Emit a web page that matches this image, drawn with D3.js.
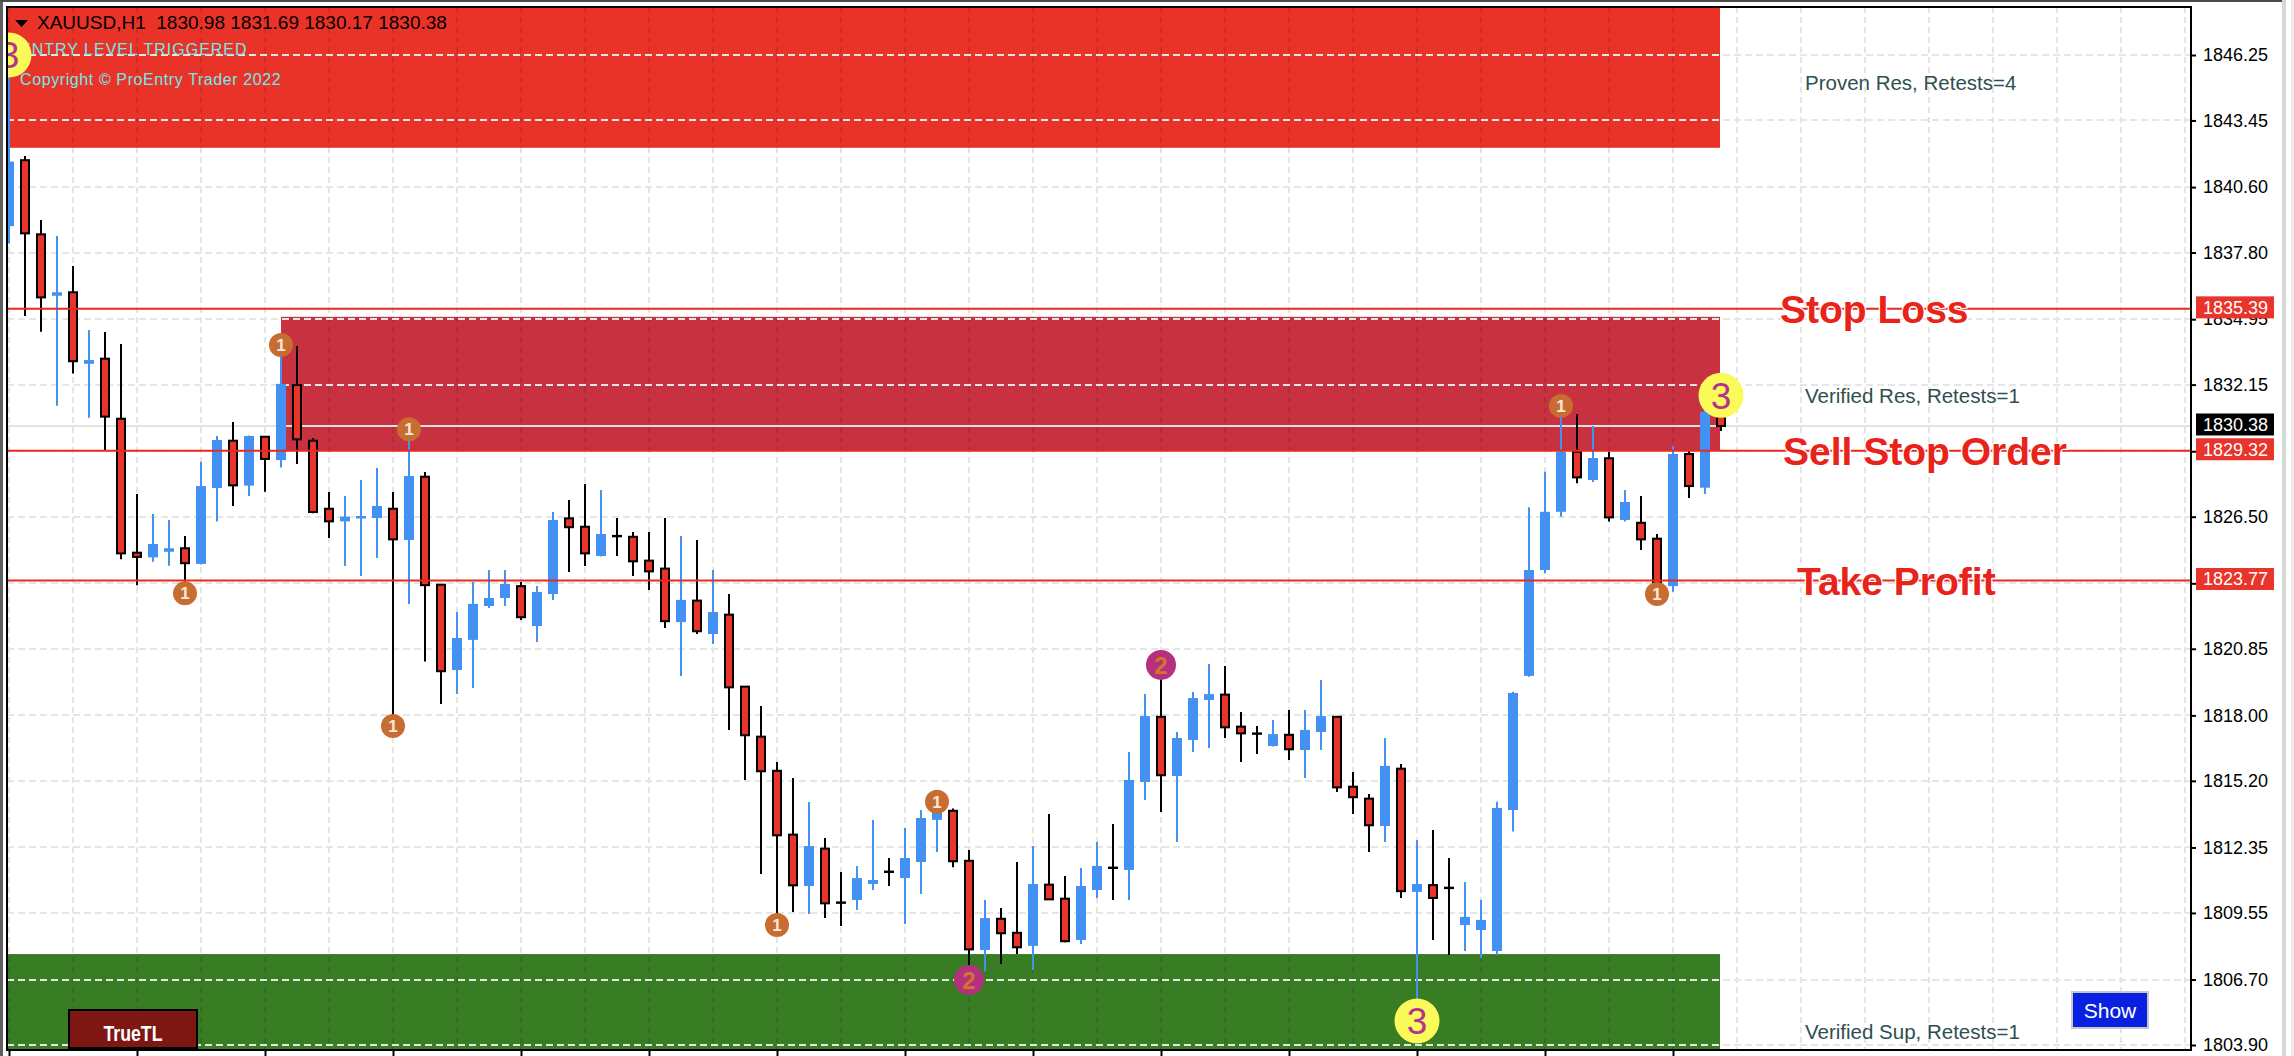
<!DOCTYPE html>
<html><head><meta charset="utf-8">
<script src="https://cdn.jsdelivr.net/npm/d3@7"></script>
<style>
html,body{margin:0;padding:0;background:#fff;overflow:hidden}
svg{display:block}
text{font-family:"Liberation Sans",Arial,sans-serif}
</style></head><body>
<svg id="chart" width="2294" height="1056"></svg>
<script>
// ---------------- DATA ----------------
const symbol = "XAUUSD,H1";
const opens = [1838.93,1841.75,1838.58,1835.95,1836.10,1833.04,1833.26,1830.69,1824.96,1824.76,
1825.00,1825.15,1824.48,1827.73,1829.75,1827.83,1829.92,1828.92,1832.13,1829.75,
1826.84,1826.30,1826.46,1826.44,1826.84,1825.50,1828.21,1823.59,1819.94,1821.23,
1822.68,1823.02,1823.53,1821.82,1823.19,1826.43,1826.07,1824.82,1825.67,1825.64,
1824.62,1824.28,1821.99,1822.91,1821.48,1822.31,1819.23,1817.09,1815.63,1812.90,
1810.70,1812.30,1809.99,1810.10,1810.79,1811.31,1811.04,1811.73,1813.53,1813.92,
1811.78,1807.96,1809.30,1808.70,1808.14,1810.76,1810.16,1808.39,1810.53,1811.48,
1811.39,1815.15,1817.94,1815.41,1816.95,1818.66,1818.89,1817.52,1817.22,1816.69,
1817.17,1816.52,1817.29,1817.94,1814.95,1814.44,1813.27,1815.72,1810.45,1810.74,
1810.62,1809.03,1808.82,1807.92,1813.95,1819.69,1824.22,1826.71,1829.28,1828.07,
1829.00,1826.36,1826.24,1825.56,1823.53,1829.18,1827.74,1830.98];
const highs = [1846.25,1841.93,1839.19,1838.51,1837.22,1834.49,1834.40,1833.89,1827.47,1826.62,
1826.36,1825.67,1828.85,1829.95,1830.55,1829.97,1829.95,1833.84,1833.80,1829.87,
1827.56,1827.39,1828.07,1828.58,1827.56,1830.24,1828.41,1823.62,1822.42,1823.71,
1824.22,1824.22,1823.71,1823.53,1826.70,1827.21,1827.90,1827.64,1826.44,1825.85,
1825.85,1826.44,1825.67,1825.50,1824.22,1823.19,1819.25,1818.40,1816.01,1815.32,
1814.30,1812.76,1811.30,1811.56,1813.53,1811.90,1813.18,1813.95,1814.31,1814.02,
1812.24,1810.10,1809.76,1811.73,1812.41,1813.78,1811.13,1811.47,1812.58,1813.35,
1816.43,1818.91,1820.16,1817.29,1819.00,1820.20,1820.11,1818.15,1817.55,1817.80,
1818.23,1818.23,1819.51,1817.97,1815.58,1814.64,1817.03,1815.92,1812.67,1813.10,
1811.90,1810.87,1810.10,1814.31,1819.01,1826.90,1828.42,1831.24,1830.89,1830.38,
1829.28,1827.64,1827.39,1825.76,1829.52,1829.35,1831.28,1831.69];
const lows = [1838.19,1835.08,1834.41,1831.25,1832.63,1830.73,1829.35,1824.68,1823.57,1824.57,
1824.40,1823.22,1824.45,1826.29,1826.96,1827.39,1827.57,1828.60,1828.75,1826.65,
1825.59,1824.39,1823.96,1824.73,1817.55,1822.77,1820.30,1818.49,1818.91,1819.17,
1822.59,1822.68,1822.08,1821.14,1822.94,1824.13,1824.39,1824.80,1824.82,1823.96,
1823.36,1821.74,1819.69,1821.48,1821.05,1817.38,1815.24,1811.22,1809.03,1809.59,
1809.50,1809.33,1808.99,1809.68,1810.53,1810.70,1809.08,1810.36,1812.16,1811.50,
1806.68,1807.04,1807.37,1807.79,1807.11,1810.10,1808.30,1808.22,1810.19,1810.10,
1810.10,1814.38,1813.87,1812.58,1816.43,1816.61,1817.03,1816.01,1816.35,1816.67,
1816.09,1815.32,1816.52,1814.72,1813.78,1812.16,1812.58,1810.19,1804.93,1808.39,
1807.75,1807.92,1807.62,1807.75,1813.03,1819.65,1824.08,1826.50,1827.93,1827.98,
1826.29,1826.29,1825.08,1823.19,1823.29,1827.30,1827.47,1830.17];
const closes = [1841.69,1838.62,1835.88,1836.10,1833.15,1833.20,1830.78,1824.93,1824.78,1825.33,
1825.15,1824.51,1827.81,1829.78,1827.84,1829.95,1828.97,1832.18,1829.81,1826.70,
1826.30,1826.50,1826.53,1826.96,1825.53,1828.24,1823.57,1819.89,1821.31,1822.77,
1823.02,1823.62,1822.20,1823.28,1826.36,1826.05,1824.93,1825.76,1825.67,1824.59,
1824.16,1822.03,1822.94,1821.60,1822.42,1819.20,1817.15,1815.61,1812.87,1810.73,
1812.41,1809.96,1809.99,1811.04,1810.96,1811.31,1811.90,1813.61,1813.87,1811.76,
1807.99,1809.33,1808.68,1808.08,1810.79,1810.13,1808.34,1810.70,1811.56,1811.48,
1815.24,1817.97,1815.44,1817.03,1818.74,1818.91,1817.49,1817.23,1817.22,1817.20,
1816.55,1817.38,1817.97,1814.92,1814.50,1813.30,1815.84,1810.48,1810.79,1810.19,
1810.62,1809.38,1809.25,1814.04,1818.96,1824.22,1826.71,1829.28,1828.18,1829.01,
1826.47,1827.13,1825.53,1823.65,1829.18,1827.81,1830.99,1830.38];

const priceTicks = ["1846.25","1843.45","1840.60","1837.80","1834.95","1832.15","1829.30","1826.50",
"1823.65","1820.85","1818.00","1815.20","1812.35","1809.55","1806.70","1803.90"];

const zoneNames = ["Proven Res","Verified Res","Verified Sup"];
const zoneRetests = [4,1,1];
const zoneLows = [1842.28,1829.32,1803.40];
const zoneHighs = [1848.60,1835.05,1807.79];
const zoneStartBars = [-2,17,-2];

const levelNames = ["Stop Loss","Sell Stop Order","Take Profit"];
const levelPrices = [1835.39,1829.32,1823.77];
const bidPrice = 1830.38;

const markerBars  = [0,11,17,24,25,48,58,60,72,88,97,103,107];
const markerSides = ["high","low","high","low","high","low","high","low","high","low","high","low","high"];
const markerRanks = [3,1,1,1,1,1,1,2,2,3,1,1,3];

const infoLines = ["ENTRY LEVEL TRIGGERED","Copyright \u00A9 ProEntry Trader 2022"];

// ---------------- LAYOUT ----------------
const W = 2294, H = 1056;
const P = {left:7, top:7, right:2191, bottom:1050};
const svg = d3.select("#chart");
const nBars = opens.length;
const x = d3.scaleLinear().domain([0, 1]).range([9, 25]);       // 16 px per bar
const y = d3.scaleLinear().domain([1803.90, 1846.25]).range([1045, 55]);

// outer window chrome
svg.append("rect").attr("x",0).attr("y",0).attr("width",W).attr("height",H).attr("fill","#fff");
svg.append("rect").attr("x",0).attr("y",0).attr("width",3).attr("height",H).attr("fill","#5e5e5e");
svg.append("rect").attr("x",0).attr("y",0).attr("width",2282).attr("height",2).attr("fill","#4a4a4a");
svg.append("rect").attr("x",2282).attr("y",0).attr("width",4).attr("height",H).attr("fill","#d8d8d8");
svg.append("rect").attr("x",2291).attr("y",0).attr("width",3).attr("height",H).attr("fill","#ececec");

svg.append("defs").append("clipPath").attr("id","plotclip")
  .append("rect").attr("x",P.left+1).attr("y",P.top+1)
  .attr("width",P.right-P.left-1).attr("height",P.bottom-P.top-1);

const g = svg.append("g").attr("clip-path","url(#plotclip)");

// zones
const zoneFill = ["#ea3328","#c8313f","#387c24"];
const zoneEnd = x(nBars-1) - 1;
zoneNames.forEach((nm,i)=>{
  const x0 = Math.max(x(zoneStartBars[i]), P.left);
  g.append("rect").attr("x",x0).attr("y",y(zoneHighs[i]))
   .attr("width",zoneEnd-x0).attr("height",y(zoneLows[i])-y(zoneHighs[i]))
   .attr("fill",zoneFill[i]);
});

// vertical grid (every 4 bars, into the empty right area)
const gridBars = d3.range(0, 137, 4);
g.selectAll("line.vg").data(gridBars).join("line").attr("class","vg")
  .attr("x1",d=>x(d)).attr("x2",d=>x(d)).attr("y1",P.top).attr("y2",P.bottom)
  .attr("stroke","rgba(0,0,0,0.1)").attr("stroke-width",2).attr("stroke-dasharray","6,4");
// horizontal grid
g.selectAll("line.hg").data(priceTicks).join("line").attr("class","hg")
  .attr("x1",P.left).attr("x2",P.right).attr("y1",d=>Math.round(y(+d))).attr("y2",d=>Math.round(y(+d)))
  .attr("stroke","#e6e6e6").attr("stroke-width",2).attr("stroke-dasharray","7,4");

// bid line
g.append("line").attr("x1",P.left).attr("x2",P.right).attr("y1",y(bidPrice)).attr("y2",y(bidPrice))
  .attr("stroke","#e2e2e2").attr("stroke-width",2);

// info texts
const info = g.append("g");
info.append("path").attr("d","M15,20 L28,20 L21.5,27 Z").attr("fill","#000");
info.append("text").attr("x",37).attr("y",29).attr("font-size",19).attr("fill","#000")
  .style("white-space","pre")
  .text(symbol+"  "+[opens[nBars-1],highs[nBars-1],lows[nBars-1],closes[nBars-1]].map(v=>v.toFixed(2)).join(" "));
info.append("text").attr("x",20).attr("y",55).attr("font-size",16).attr("letter-spacing",1)
  .attr("fill","#6fe9e9").text(infoLines[0]);
info.append("text").attr("x",20).attr("y",85).attr("font-size",16).attr("letter-spacing",0.6)
  .attr("fill","#6fe9e9").text(infoLines[1]);

// candles
const bars = d3.range(nBars);
const cg = g.append("g");
bars.forEach(i=>{
  const o=opens[i], c=closes[i], h=highs[i], l=lows[i], cx=x(i);
  const bull = c>o, doji = c===o;
  const col = bull ? "#4391f3" : "#000";
  cg.append("line").attr("x1",cx).attr("x2",cx).attr("y1",y(h)).attr("y2",y(l))
    .attr("stroke",col).attr("stroke-width",2);
  if (doji){
    cg.append("rect").attr("x",cx-5).attr("y",y(o)-1.2).attr("width",10).attr("height",2.4).attr("fill","#000");
  } else if (bull){
    const top=y(c), bot=y(o);
    cg.append("rect").attr("x",cx-5).attr("y",top).attr("width",10).attr("height",Math.max(bot-top,2.5)).attr("fill","#4391f3");
  } else {
    const top=y(o), bot=y(c);
    cg.append("rect").attr("x",cx-4).attr("y",top).attr("width",8).attr("height",Math.max(bot-top,1))
      .attr("fill","#e8342a").attr("stroke","#000").attr("stroke-width",2);
  }
});

// level lines (foreground)
const levelColor = "#e82a1f";
levelPrices.forEach((p,i)=>{
  g.append("line").attr("x1",P.left).attr("x2",P.right).attr("y1",y(p)).attr("y2",y(p))
    .attr("stroke",levelColor).attr("stroke-width",2);
});
const levelLabelX = [1780,1783,1797];
levelNames.forEach((nm,i)=>{
  g.append("text").attr("x",levelLabelX[i]).attr("y",y(levelPrices[i])+14)
   .attr("font-size",39).attr("font-weight","bold").attr("fill","#e8231a")
   .attr("stroke","#fff").attr("stroke-width",2.5).attr("paint-order","stroke")
   .text(nm);
});

// zone labels
const zoneLabelY = [y(zoneLows[0])-58, y(zoneLows[1])-48, y(zoneLows[2])-18];
zoneNames.forEach((nm,i)=>{
  g.append("text").attr("x",1805).attr("y",zoneLabelY[i]).attr("font-size",20.5)
   .attr("fill","#2f4f4f").text(`${nm}, Retests=${zoneRetests[i]}`);
});

// markers
const mStyle = {
  1:{r:12, fill:"#c76d31", tc:"#fbe8dc", fs:17, fw:"bold"},
  2:{r:15, fill:"#b5307f", tc:"#d2742e", fs:24, fw:"bold"},
  3:{r:22.5, fill:"#fafa5a", tc:"#b1358b", fs:37, fw:"normal"}
};
markerBars.forEach((b,i)=>{
  const s = mStyle[markerRanks[i]];
  const py = y(markerSides[i]==="high" ? highs[b] : lows[b]);
  g.append("circle").attr("cx",x(b)).attr("cy",py).attr("r",s.r).attr("fill",s.fill);
  g.append("text").attr("x",x(b)).attr("y",py).attr("dy","0.36em").attr("text-anchor","middle")
   .attr("font-size",s.fs).attr("font-weight",s.fw).attr("fill",s.tc).text(markerRanks[i]);
});

// TrueTL button
g.append("rect").attr("x",69).attr("y",1010).attr("width",128).attr("height",38)
  .attr("fill","#7e1712").attr("stroke","#000").attr("stroke-width",2);
g.append("text").attr("x",133).attr("y",1041).attr("text-anchor","middle").attr("font-size",22)
  .attr("font-weight","bold").attr("fill","#fff").attr("textLength",59).attr("lengthAdjust","spacingAndGlyphs").text("TrueTL");

// Show button
svg.append("rect").attr("x",2072).attr("y",992).attr("width",76).attr("height",36)
  .attr("fill","#0a20e0").attr("stroke","#c8c8c8").attr("stroke-width",2);
svg.append("text").attr("x",2110).attr("y",1018).attr("text-anchor","middle").attr("font-size",21)
  .attr("fill","#fff").text("Show");

// frame
svg.append("rect").attr("x",P.left).attr("y",P.top).attr("width",P.right-P.left).attr("height",P.bottom-P.top)
  .attr("fill","none").attr("stroke","#000").attr("stroke-width",2);

// right price axis
const ax = svg.append("g").attr("transform",`translate(${P.right},0)`)
  .call(d3.axisRight(y).tickValues(priceTicks.map(Number)).tickFormat((d,i)=>priceTicks[i]).tickSize(5).tickPadding(7));
ax.select(".domain").remove();
ax.selectAll(".tick line").attr("stroke","#000").attr("stroke-width",2);
ax.selectAll(".tick text").attr("font-size",18).attr("fill","#000")
  .attr("font-family","'Liberation Sans',Arial,sans-serif");

// bottom time ticks
const bx = svg.append("g").attr("transform",`translate(0,${P.bottom})`)
  .call(d3.axisBottom(x).tickValues(d3.range(0,nBars,8)).tickFormat("").tickSize(6));
bx.select(".domain").remove();
bx.selectAll(".tick line").attr("stroke","#000").attr("stroke-width",2);

// price boxes
const boxes = levelPrices.map(p=>({p, fill:"#e8342a"})).concat([{p:bidPrice, fill:"#000"}]);
boxes.forEach(b=>{
  const cy = y(b.p)-1.5;
  svg.append("rect").attr("x",2196).attr("y",cy-11).attr("width",78).attr("height",22).attr("fill",b.fill);
  svg.append("text").attr("x",2203).attr("y",cy).attr("dy","0.35em").attr("font-size",18)
    .attr("fill","#fff").text(b.p.toFixed(2));
});
</script>
</body></html>
